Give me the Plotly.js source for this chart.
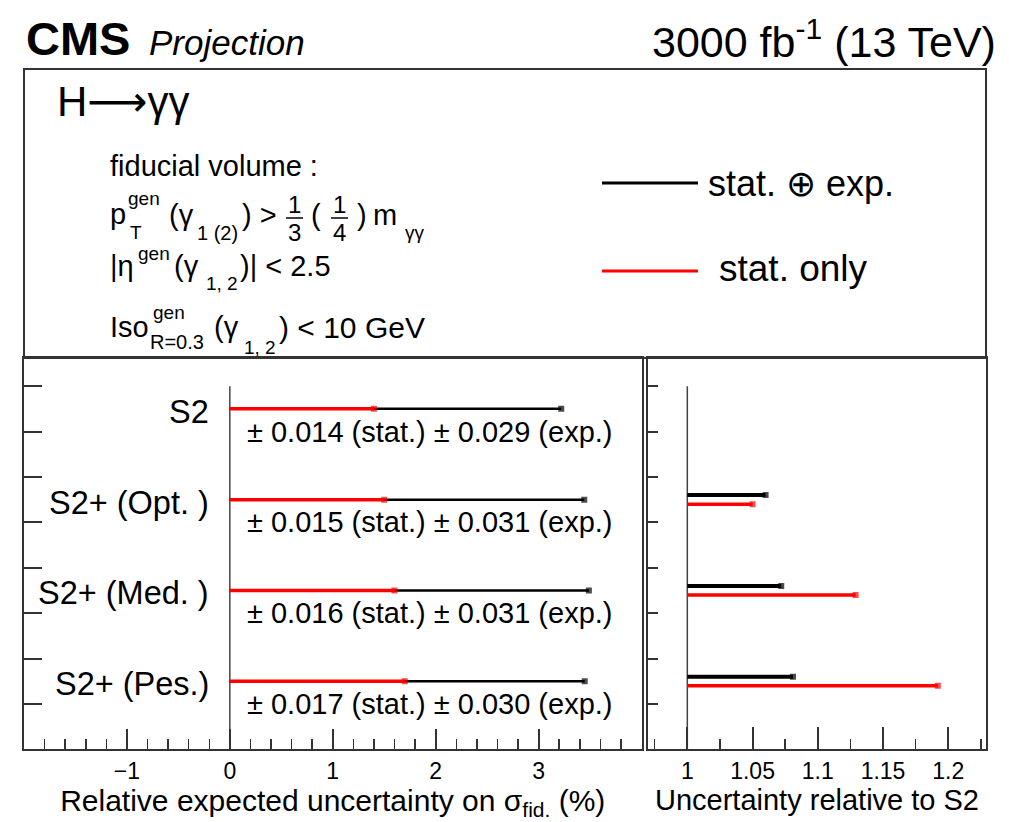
<!DOCTYPE html>
<html>
<head>
<meta charset="utf-8">
<script src="https://cdn.plot.ly/plotly-3.0.1.min.js"></script>
<style>
  html, body { margin: 0; padding: 0; background: #fff; }
  #plot { width: 1009px; height: 822px; }
</style>
</head>
<body>
<div id="plot"></div>
<script>
// H -> gamma gamma fiducial cross-section: projected relative uncertainties
const scenarios = ['S2', 'S2+ (Opt. )', 'S2+ (Med. )', 'S2+ (Pes.)'];
// Relative uncertainties on sigma_fid (fractions)
const statUnc = [0.014, 0.015, 0.016, 0.017];
const expUnc  = [0.029, 0.031, 0.031, 0.030];
// Total and stat-only uncertainty of each S2+ scenario relative to S2
const upgradeScenarios = ['S2+ (Opt. )', 'S2+ (Med. )', 'S2+ (Pes.)'];
const ratioTotal = [1.060, 1.072, 1.081];
const ratioStat  = [1.050, 1.129, 1.192];
// Tick labels
const leftTickVals  = [-1, 0, 1, 2, 3];
const leftTickText  = ['\u22121', '0', '1', '2', '3'];
const rightTickVals = [1, 1.05, 1.1, 1.15, 1.2];
const rightTickText = ['1', '1.05', '1.1', '1.15', '1.2'];

const W = 1009, H = 822;
const FONT = 'Liberation Sans, Arial, Helvetica, sans-serif';
const px = v => v / W;
const py = v => 1 - v / H;
const AXIS = '#333';

// row centre of a scenario (top row first), in y-axis units
const rowY = name => 7.5 - 2 * scenarios.indexOf(name);

const pct = v => 100 * v;
const totalPct = statUnc.map((s, i) => pct(Math.hypot(s, expUnc[i])));
const statPct = statUnc.map(pct);

// horizontal segments from a base value to each value, separated by gaps
function segments(names, values, base, dy) {
  const x = [], y = [], size = [];
  names.forEach((n, i) => {
    const yy = rowY(n) + dy;
    x.push(base, values[i], null);
    y.push(yy, yy, null);
    size.push(0, 6, 0);
  });
  return { x, y, size };
}

function segTrace(seg, color, width, xa, ya, name) {
  return {
    type: 'scatter', mode: 'lines+markers', name,
    x: seg.x, y: seg.y, xaxis: xa, yaxis: ya,
    line: { color, width },
    marker: { color, size: seg.size, symbol: 'square', line: { width: 0 } },
    connectgaps: false, hoverinfo: 'skip', showlegend: false
  };
}

const lTot = segments(scenarios, totalPct, 0, 0);
const lStat = segments(scenarios, statPct, 0, 0);
const rTot = segments(upgradeScenarios, ratioTotal, 1, 0.1);
const rStat = segments(upgradeScenarios, ratioStat, 1, -0.1);

const data = [
  segTrace(lTot, '#000', 2.5, 'x', 'y', 'stat. \u2295 exp.'),
  segTrace(lStat, '#ff0000', 3.5, 'x', 'y', 'stat. only'),
  segTrace(rTot, '#000', 4, 'x2', 'y2', 'stat. \u2295 exp.'),
  segTrace(rStat, '#ff0000', 3.5, 'x2', 'y2', 'stat. only')
];

function txt(text, x, y, size, extra) {
  return Object.assign({
    xref: 'paper', yref: 'paper', x: px(x), y: py(y), text,
    showarrow: false, xanchor: 'left', yanchor: 'middle',
    font: { family: FONT, size, color: '#000' }
  }, extra || {});
}

const SUB = 19, MAIN = 29;
const annotations = [
  // header
  txt('<b>CMS</b>', 24, 38, 47),
  txt('<i>Projection</i>', 147, 43, 35),
  txt('3000 fb<sup>-1</sup> (13 TeV)', 998, 39, 43, { xanchor: 'right' }),
  // process and fiducial definition
  txt('H<span style="font-family:DejaVu Sans">\u27f6</span>\u03b3\u03b3', 55, 101, 42),
  txt('fiducial volume :', 108, 166, MAIN),
  txt('p', 108, 214, MAIN),
  txt('gen', 126, 199, SUB),
  txt('T', 128, 233, SUB),
  txt('(\u03b3', 167, 215, MAIN),
  txt('1 (2)', 195, 233, 20),
  txt(') >', 240, 215, MAIN),
  txt('1', 294.5, 205, 24, { xanchor: 'center' }),
  txt('3', 294.5, 232, 24, { xanchor: 'center' }),
  txt('(', 309, 215, MAIN),
  txt('1', 339.5, 205, 24, { xanchor: 'center' }),
  txt('4', 339.5, 232, 24, { xanchor: 'center' }),
  txt(')', 355, 215, MAIN),
  txt('m', 371, 215, MAIN),
  txt('\u03b3\u03b3', 403, 233, SUB),
  txt('|\u03b7', 108, 266, MAIN),
  txt('gen', 136, 253, SUB),
  txt('(\u03b3', 172, 266, MAIN),
  txt('1, 2', 204, 283, SUB),
  txt(')| < 2.5', 238, 266, MAIN),
  txt('Iso', 108, 327, MAIN),
  txt('gen', 151, 312, SUB),
  txt('R=0.3', 148, 342, 20),
  txt('(\u03b3', 212, 327, MAIN),
  txt('1, 2', 242, 348, SUB),
  txt(') < 10 GeV', 277, 327, 30),
  // legend
  txt('stat. \u2295 exp.', 706, 184, 36),
  txt('stat. only', 717, 268, 37)
];

// scenario names and their uncertainty breakdown
scenarios.forEach((n, i) => {
  annotations.push({
    xref: 'x', yref: 'y', x: -0.18, y: rowY(n), yshift: -3, text: n,
    showarrow: false, xanchor: 'right', yanchor: 'middle',
    font: { family: FONT, size: 32.5, color: '#000' }
  });
  annotations.push({
    xref: 'x', yref: 'y', x: 0.15, y: rowY(n) - 0.5,
    text: '\u00b1 ' + statUnc[i].toFixed(3) + ' (stat.) \u00b1 ' + expUnc[i].toFixed(3) + ' (exp.)',
    showarrow: false, xanchor: 'left', yanchor: 'middle',
    font: { family: FONT, size: 29, color: '#000' }
  });
});

const shapes = [
  // box holding the process, selection and legend
  { type: 'rect', xref: 'paper', yref: 'paper', x0: px(24), x1: px(986), y0: py(358), y1: py(69),
    line: { color: AXIS, width: 2 } },
  // reference lines
  { type: 'line', xref: 'x', yref: 'y', x0: 0, x1: 0, y0: 0, y1: 8, layer: 'below',
    line: { color: '#444', width: 1.5 } },
  { type: 'line', xref: 'x2', yref: 'y2', x0: 1, x1: 1, y0: 0, y1: 8, layer: 'below',
    line: { color: '#444', width: 1.5 } },
  // legend samples
  { type: 'line', xref: 'paper', yref: 'paper', x0: px(602), x1: px(698), y0: py(183), y1: py(183),
    line: { color: '#000', width: 3 } },
  { type: 'line', xref: 'paper', yref: 'paper', x0: px(602), x1: px(698), y0: py(271), y1: py(271),
    line: { color: '#ff0000', width: 3 } },
  // fraction bars
  { type: 'line', xref: 'paper', yref: 'paper', x0: px(286), x1: px(303), y0: py(218), y1: py(218),
    line: { color: '#000', width: 1.5 } },
  { type: 'line', xref: 'paper', yref: 'paper', x0: px(331), x1: px(348), y0: py(218), y1: py(218),
    line: { color: '#000', width: 1.5 } }
];

const yDomain = [1 - 749.3 / H, 1 - 358 / H];
const common = {
  showgrid: false, zeroline: false, showline: true, mirror: true,
  linecolor: AXIS, linewidth: 2, ticks: 'inside', tickcolor: AXIS, tickwidth: 2,
  tickfont: { family: FONT, size: 23, color: '#000' }, fixedrange: true
};

const layout = {
  width: W, height: H,
  margin: { l: 0, r: 0, t: 0, b: 0 },
  paper_bgcolor: '#fff', plot_bgcolor: '#fff',
  showlegend: false,
  xaxis: Object.assign({}, common, {
    domain: [24 / W, 641.5 / W], range: [-2, 4],
    tickmode: 'array', tickvals: leftTickVals, ticktext: leftTickText, ticklen: 20,
    minor: { tickmode: 'linear', tick0: 0, dtick: 0.2, ticks: 'inside', ticklen: 10, tickwidth: 1.5, tickcolor: AXIS },
    title: { text: 'Relative expected uncertainty on \u03c3<sub>fid.</sub> (%)', standoff: 5,
             font: { family: FONT, size: 30, color: '#000' } },
    anchor: 'y'
  }),
  yaxis: Object.assign({}, common, {
    domain: yDomain, range: [0, 8.62], tickmode: 'linear', tick0: 0, dtick: 1,
    ticklen: 18, showticklabels: false, anchor: 'x'
  }),
  xaxis2: Object.assign({}, common, {
    domain: [648.3 / W, 985.7 / W], range: [0.9701, 1.2287],
    tickmode: 'array', tickvals: rightTickVals, ticktext: rightTickText, ticklen: 22,
    minor: { tickmode: 'linear', tick0: 0, dtick: 0.025, ticks: 'inside', ticklen: 10, tickwidth: 1.5, tickcolor: AXIS },
    title: { text: 'Uncertainty relative to S2', standoff: 5,
             font: { family: FONT, size: 29, color: '#000' } },
    anchor: 'y2'
  }),
  yaxis2: Object.assign({}, common, {
    domain: yDomain, range: [0, 8.62], tickmode: 'linear', tick0: 0, dtick: 1,
    ticklen: 10, showticklabels: false, anchor: 'x2'
  }),
  annotations, shapes
};

Plotly.newPlot('plot', data, layout, { staticPlot: true, displayModeBar: false });
</script>
</body>
</html>
